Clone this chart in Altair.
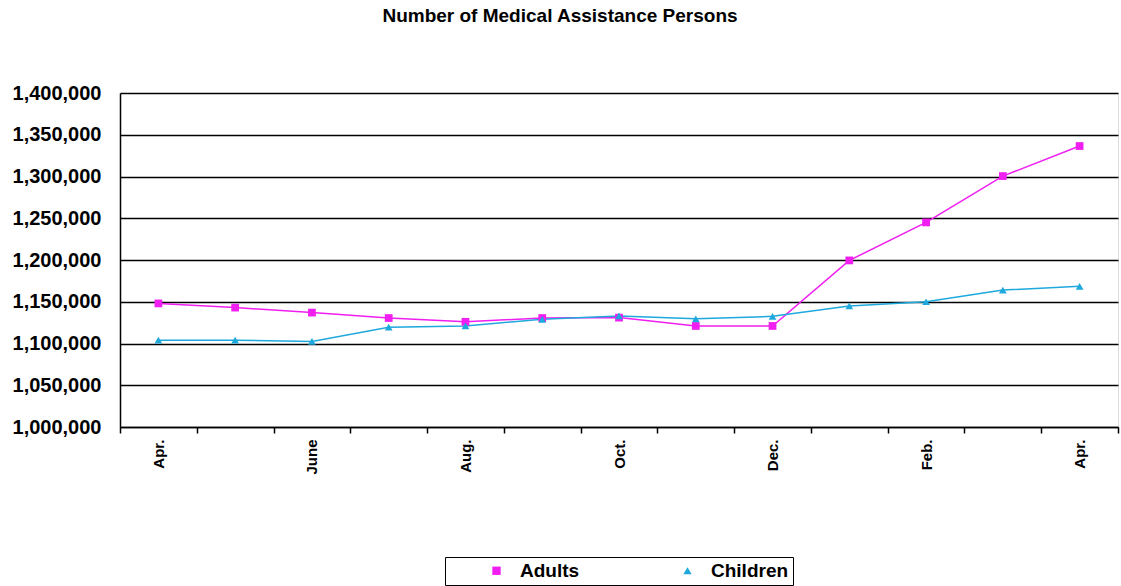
import altair as alt
import pandas as pd

months = ["Apr.", "May", "June", "July", "Aug.", "Sep.", "Oct.", "Nov.", "Dec.", "Jan.", "Feb.", "Mar.", "Apr."]
adults = [1148000, 1143000, 1137000, 1130500, 1126000, 1130500, 1131000, 1121000, 1121000, 1199500, 1245000, 1300500, 1336500]
children = [1104000, 1104000, 1102500, 1119500, 1121000, 1129000, 1133000, 1129500, 1132500, 1145000, 1150000, 1164000, 1168500]
series = ["Adults", "Children"]
colors = ["#F01EF0", "#1EA8DC"]
shapes = ["square", "triangle-up"]
y_ticks = [1000000, 1050000, 1100000, 1150000, 1200000, 1250000, 1300000, 1350000, 1400000]

rows = []
for i in range(len(months)):
    rows.append({"idx": i, "series": series[0], "value": adults[i]})
    rows.append({"idx": i, "series": series[1], "value": children[i]})
df = pd.DataFrame(rows)

label_expr = "datum.value % 2 == 0 ? " + str(months) + "[datum.value] : ''"
FONT = "Liberation Sans"

x_enc = alt.X(
    "idx:O",
    scale=alt.Scale(type="band", paddingInner=0, paddingOuter=0),
    bandPosition=0.5,
    title=None,
    axis=alt.Axis(
        labelExpr=label_expr,
        labelAngle=270,
        labelFont=FONT,
        labelFontSize=15,
        labelFontWeight="bold",
        labelColor="black",
        labelPadding=6,
        tickBand="extent",
        tickColor="black",
        tickSize=6,
        tickWidth=1.5,
        domainColor="black",
        domainWidth=1.5,
        grid=False,
        labelOverlap=False,
    ),
)
y_enc = alt.Y(
    "value:Q",
    scale=alt.Scale(domain=[1000000, 1400000], nice=False, zero=False),
    title=None,
    axis=alt.Axis(
        values=y_ticks,
        labelExpr="format(datum.value, ',')",
        labelFont=FONT,
        labelFontSize=20,
        labelFontWeight="bold",
        labelColor="black",
        labelPadding=19,
        ticks=False,
        domainColor="black",
        domainWidth=1.5,
        grid=True,
        gridColor="black",
        gridWidth=1.3,
        gridOpacity=1,
    ),
)

leg = alt.Legend(
    title=None,
    orient="none",
    legendX=325,
    legendY=464,
    direction="horizontal",
    strokeColor="black",
    padding=4,
    labelFont=FONT,
    labelFontSize=19,
    labelFontWeight="bold",
    labelColor="black",
    symbolSize=70,
    symbolOpacity=1,
    symbolOffset=38,
    labelOffset=14,
    columnPadding=60,
)
color_scale = alt.Scale(domain=series, range=colors)
shape_scale = alt.Scale(domain=series, range=shapes)

lines = alt.Chart(df).mark_line(strokeWidth=1.5).encode(
    x=x_enc, y=y_enc,
    color=alt.Color("series:N", scale=color_scale, legend=None),
)
points = alt.Chart(df).mark_point(filled=True, size=60, opacity=1).encode(
    x=x_enc, y=y_enc,
    color=alt.Color("series:N", scale=color_scale, legend=None),
    shape=alt.Shape("series:N", scale=shape_scale, legend=None),
)
legend_layer = alt.Chart(df).mark_point(filled=True, size=70, opacity=0).encode(
    x=x_enc, y=y_enc,
    color=alt.Color("series:N", scale=color_scale, legend=leg),
    shape=alt.Shape("series:N", scale=shape_scale, legend=leg),
)

chart = alt.layer(lines, points, legend_layer).resolve_scale(
    color="independent", shape="independent"
).properties(
    width=998,
    height=334,
    title=alt.TitleParams(
        "Number of Medical Assistance Persons",
        font=FONT,
        fontSize=19,
        fontWeight="bold",
        color="black",
        anchor="middle",
        offset=57,
        dx=-59,
    ),
    autosize=alt.AutoSizeParams(type="none"),
    padding={"left": 120, "top": 93, "right": 3, "bottom": 159},
).configure_view(stroke="black", strokeWidth=1.5).configure(background="white")

chart.save("out.html", embed_options={"renderer": "svg", "actions": False})
